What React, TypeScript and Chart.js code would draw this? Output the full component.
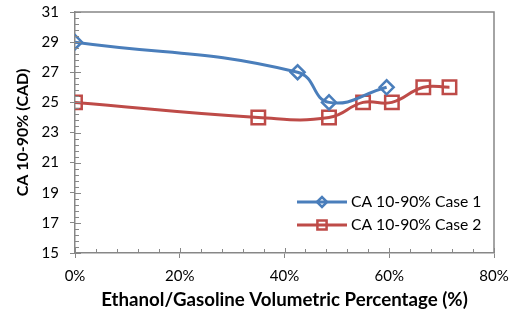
import React, { useEffect, useRef } from "react";
import { Chart, registerables } from "chart.js";

Chart.register(...registerables);

const case1X = [0, 42.5, 48.5, 59.5];
const case1Y = [29, 27, 25, 26];
const case2X = [0, 35, 48.5, 55, 60.5, 66.5, 71.5];
const case2Y = [25, 24, 24, 25, 25, 26, 26];
const seriesLabels = ["CA 10-90% Case 1", "CA 10-90% Case 2"];
const xTitle = "Ethanol/Gasoline Volumetric Percentage (%)";
const yTitle = "CA 10-90% (CAD)";

const BLUE = "#4A7EBB";
const RED = "#BE4B48";
const AXIS = "#878787";
const FONT = "Lato, 'Open Sans', sans-serif";

function drawMarker(ctx: CanvasRenderingContext2D, style: string, x: number, y: number, r: number, color: string, bw: number) {
  ctx.save();
  ctx.strokeStyle = color;
  ctx.lineWidth = bw;
  ctx.beginPath();
  if (style === "rectRot") {
    ctx.moveTo(x - r, y);
    ctx.lineTo(x, y - r);
    ctx.lineTo(x + r, y);
    ctx.lineTo(x, y + r);
    ctx.closePath();
  } else {
    const s = r * Math.SQRT1_2;
    ctx.rect(x - s, y - s, 2 * s, 2 * s);
  }
  ctx.stroke();
  ctx.restore();
}

const decorPlugin = {
  id: "decor",
  afterDraw(chart: any) {
    const { ctx, chartArea } = chart;
    const xs = chart.scales.x;
    const ys = chart.scales.y;
    ctx.save();
    ctx.strokeStyle = AXIS;
    ctx.lineWidth = 1.5;
    ctx.beginPath();
    ctx.moveTo(chartArea.left, chartArea.top);
    ctx.lineTo(chartArea.right, chartArea.top);
    ctx.lineTo(chartArea.right, chartArea.bottom);
    ctx.stroke();
    ctx.lineWidth = 1;
    for (let v = 15; v <= 31.001; v += 0.4) {
      const rv = Math.round(v * 10) / 10;
      const major = Math.abs((rv - 15) / 2 - Math.round((rv - 15) / 2)) < 1e-6;
      const py = Math.round(ys.getPixelForValue(rv)) + 0.5;
      ctx.beginPath();
      ctx.moveTo(chartArea.left, py);
      ctx.lineTo(chartArea.left + (major ? 6 : 4), py);
      ctx.stroke();
    }
    for (let v = 0; v <= 80; v += 4) {
      const major = v % 20 === 0;
      const px = Math.round(xs.getPixelForValue(v)) + 0.5;
      ctx.beginPath();
      ctx.moveTo(px, chartArea.bottom);
      ctx.lineTo(px, chartArea.bottom - (major ? 5 : 4));
      ctx.stroke();
    }
    const items = chart.data.datasets;
    const lx0 = chartArea.right - 197;
    const lx1 = chartArea.right - 147;
    const ly = [chartArea.bottom - 51, chartArea.bottom - 28];
    items.forEach((ds: any, i: number) => {
      ctx.strokeStyle = ds.borderColor;
      ctx.lineWidth = 3;
      ctx.beginPath();
      ctx.moveTo(lx0, ly[i]);
      ctx.lineTo(lx1, ly[i]);
      ctx.stroke();
      drawMarker(ctx, ds.pointStyle, (lx0 + lx1) / 2, ly[i], i === 0 ? 5 : 6.5, ds.borderColor, 2.5);
      ctx.fillStyle = "#000";
      ctx.font = `15.7px ${FONT}`;
      ctx.textAlign = "left";
      ctx.textBaseline = "middle";
      ctx.fillText(ds.label, lx1 + 4, ly[i]);
    });
    ctx.restore();
  },
};

export default function App() {
  const ref = useRef<HTMLCanvasElement>(null);
  useEffect(() => {
    if (!ref.current) return;
    const chart = new Chart(ref.current, {
      type: "line",
      data: {
        datasets: [
          {
            label: seriesLabels[0],
            data: case1X.map((x, i) => ({ x, y: case1Y[i] })),
            borderColor: BLUE,
            backgroundColor: "rgba(0,0,0,0)",
            borderWidth: 3,
            pointStyle: "rectRot",
            pointRadius: 7,
            pointBorderWidth: 2.5,
            pointBackgroundColor: "rgba(0,0,0,0)",
            pointBorderColor: BLUE,
            tension: 0.45,
          },
          {
            label: seriesLabels[1],
            data: case2X.map((x, i) => ({ x, y: case2Y[i] })),
            borderColor: RED,
            backgroundColor: "rgba(0,0,0,0)",
            borderWidth: 3,
            pointStyle: "rect",
            pointRadius: 9.5,
            pointBorderWidth: 2.5,
            pointBackgroundColor: "rgba(0,0,0,0)",
            pointBorderColor: RED,
            tension: 0.45,
          },
        ],
      },
      options: {
        animation: false,
        responsive: true,
        maintainAspectRatio: false,
        layout: { padding: { top: 11, right: 21, left: 0, bottom: 0 } },
        plugins: { legend: { display: false }, tooltip: { enabled: false } },
        scales: {
          x: {
            type: "linear",
            min: 0,
            max: 80,
            ticks: {
              stepSize: 20,
              padding: 9,
              color: "#000",
              font: { family: FONT, size: 15 },
              callback: (v: any) => `${v}%`,
            },
            grid: { drawOnChartArea: false, drawTicks: true, tickLength: 5, color: AXIS, tickColor: AXIS },
            border: { color: AXIS, width: 1.5 },
            title: {
              display: true,
              text: xTitle,
              color: "#000",
              font: { family: FONT, size: 18.7, weight: "bold" },
              padding: { top: 0, bottom: 9 },
            },
            afterFit: (s: any) => {
              s.height = 67;
              s.paddingLeft = 0;
              s.paddingRight = 0;
            },
          },
          y: {
            min: 15,
            max: 31,
            ticks: {
              stepSize: 2,
              padding: 11,
              color: "#000",
              font: { family: FONT, size: 15 },
            },
            grid: { drawOnChartArea: false, drawTicks: true, tickLength: 5, color: AXIS, tickColor: AXIS },
            border: { color: AXIS, width: 1.5 },
            title: {
              display: true,
              text: yTitle,
              color: "#000",
              font: { family: FONT, size: 16, weight: "bold" },
              padding: { top: 13, bottom: 0 },
            },
            afterFit: (s: any) => {
              s.width = 75;
              s.paddingTop = 0;
              s.paddingBottom = 0;
            },
          },
        },
      },
      plugins: [decorPlugin],
    });
    return () => chart.destroy();
  }, []);
  return (
    <div style={{ position: "absolute", left: 0, top: 0, width: 515, height: 320, background: "#fff" }}>
      <canvas ref={ref} />
    </div>
  );
}
